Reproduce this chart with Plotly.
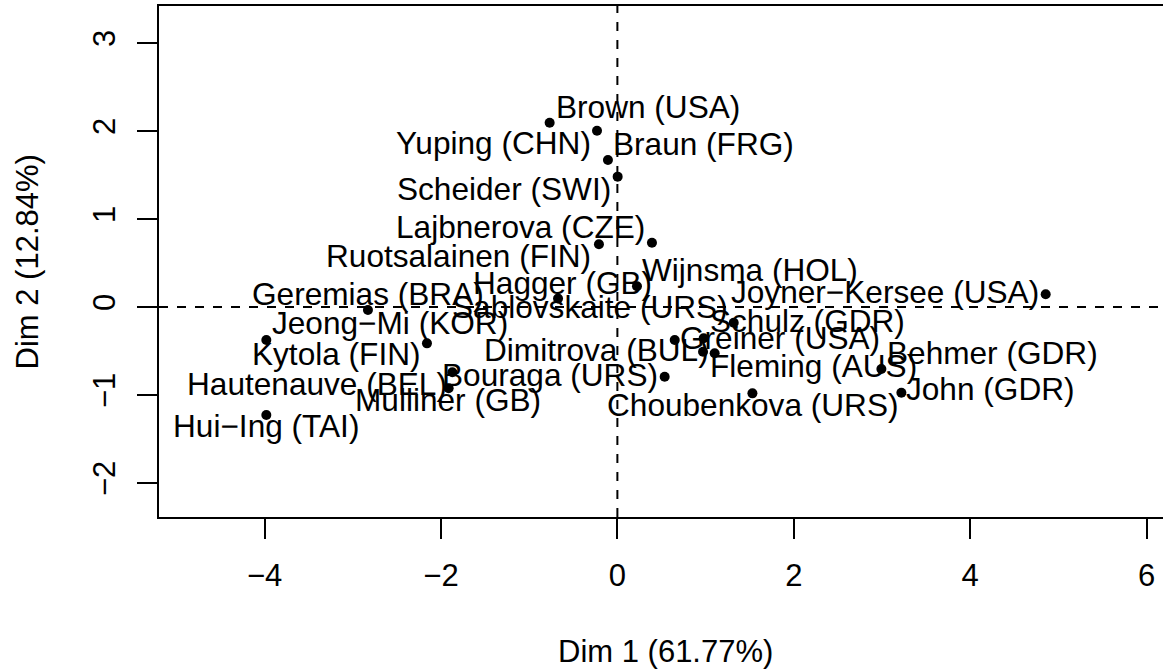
import plotly.graph_objects as go

# Individuals factor map (PCA, dimensions 1 and 2)
athletes = [
    "Joyner\u2212Kersee (USA)", "John (GDR)", "Behmer (GDR)", "Sablovskaite (URS)",
    "Choubenkova (URS)", "Schulz (GDR)", "Fleming (AUS)", "Greiner (USA)",
    "Lajbnerova (CZE)", "Bouraga (URS)", "Wijnsma (HOL)", "Dimitrova (BUL)",
    "Scheider (SWI)", "Braun (FRG)", "Ruotsalainen (FIN)", "Yuping (CHN)",
    "Hagger (GB)", "Brown (USA)", "Mulliner (GB)", "Hautenauve (BEL)",
    "Kytola (FIN)", "Geremias (BRA)", "Hui\u2212Ing (TAI)", "Jeong\u2212Mi (KOR)",
]
dim1 = [4.856, 3.220, 2.993, 1.319, 1.531, 0.978, 0.971, 0.650,
        0.392, 0.536, 0.222, 1.103, 0.003, -0.107, -0.209, -0.231,
        -0.673, -0.768, -1.913, -1.871, -2.159, -2.828, -3.980, -3.980]
dim2 = [0.144, -0.974, -0.705, -0.178, -0.981, -0.356, -0.508, -0.375,
        0.731, -0.792, 0.236, -0.526, 1.481, 1.670, 0.713, 2.003,
        0.097, 2.094, -0.924, -0.742, -0.413, -0.034, -1.227, -0.375]

x_ticks = [-4, -2, 0, 2, 4, 6]
y_ticks = [-2, -1, 0, 1, 2, 3]
x_title = "Dim 1 (61.77%)"
y_title = "Dim 2 (12.84%)"

# Pixel offsets of each label centre from its point (right, down), chosen
# so labels do not collide with each other.
label_shift = {
    "Joyner\u2212Kersee (USA)": (-161, -2), "John (GDR)": (89, -4),
    "Behmer (GDR)": (111, -16), "Sablovskaite (URS)": (-144, -16),
    "Choubenkova (URS)": (1, 12), "Schulz (GDR)": (104, -17),
    "Fleming (AUS)": (110, 14), "Greiner (USA)": (105, -2),
    "Lajbnerova (CZE)": (-131, -16), "Bouraga (URS)": (-115, -2),
    "Wijnsma (HOL)": (113, -16), "Dimitrova (BUL)": (-118, -3),
    "Scheider (SWI)": (-114, 12), "Braun (FRG)": (96, -16),
    "Ruotsalainen (FIN)": (-140, 12), "Yuping (CHN)": (-104, 12),
    "Hagger (GB)": (4, -15), "Brown (USA)": (98, -16),
    "Mulliner (GB)": (-1, 12), "Hautenauve (BEL)": (-135, 12),
    "Kytola (FIN)": (-90, 11), "Geremias (BRA)": (0, -16),
    "Hui\u2212Ing (TAI)": (0, 11), "Jeong\u2212Mi (KOR)": (124, -17),
}

FONT = "Liberation Sans, Arial, Helvetica, sans-serif"
FS = 31
LABEL_FS = 31.6

fig = go.Figure()
fig.add_trace(go.Scatter(
    x=dim1, y=dim2, mode="markers", text=athletes,
    marker=dict(color="black", size=10, line=dict(width=0)),
    hoverinfo="text", showlegend=False,
))

annotations = []
for name, xv, yv in zip(athletes, dim1, dim2):
    dx, dy = label_shift[name]
    annotations.append(dict(
        x=xv, y=yv, xref="x", yref="y", text=name, showarrow=False,
        xanchor="center", yanchor="middle", xshift=dx, yshift=-dy,
        font=dict(family=FONT, size=LABEL_FS, color="black"),
    ))
annotations.append(dict(
    x=0.504, y=-0.264, xref="paper", yref="paper", text=x_title,
    showarrow=False, xanchor="center", yanchor="middle",
    font=dict(family=FONT, size=FS, color="black"),
))
annotations.append(dict(
    x=-0.1305, y=0.5, xref="paper", yref="paper", text=y_title,
    showarrow=False, xanchor="center", yanchor="middle", textangle=-90,
    font=dict(family=FONT, size=FS, color="black"),
))

dash = dict(color="black", width=2, dash="9px,9px")
shapes = [
    dict(type="line", xref="x", yref="paper", x0=0, x1=0, y0=0, y1=1, line=dash, layer="below"),
    dict(type="line", xref="paper", yref="y", x0=0, x1=1, y0=0, y1=0, line=dash, layer="below"),
]

fig.update_layout(
    width=1163, height=671,
    margin=dict(l=159, r=0, t=6, b=154),
    paper_bgcolor="white", plot_bgcolor="white",
    font=dict(family=FONT, size=FS, color="black"),
    annotations=annotations, shapes=shapes,
    xaxis=dict(
        range=[-5.197, 6.186], tickvals=x_ticks, ticks="outside", ticklen=20,
        tickwidth=2, tickcolor="black", showgrid=False, zeroline=False,
        showline=True, linecolor="black", linewidth=2, mirror=True,
        tickfont=dict(family=FONT, size=FS, color="black"),
        ticklabelstandoff=10,
    ),
    yaxis=dict(
        range=[-2.386, 3.420], tickvals=y_ticks, ticks="outside", ticklen=20,
        tickwidth=2, tickcolor="black", showgrid=False, zeroline=False,
        showline=True, linecolor="black", linewidth=2, mirror=False,
        tickangle=-90, tickfont=dict(family=FONT, size=FS, color="black"),
        ticklabelstandoff=10,
    ),
)

fig.write_html("out.html")
